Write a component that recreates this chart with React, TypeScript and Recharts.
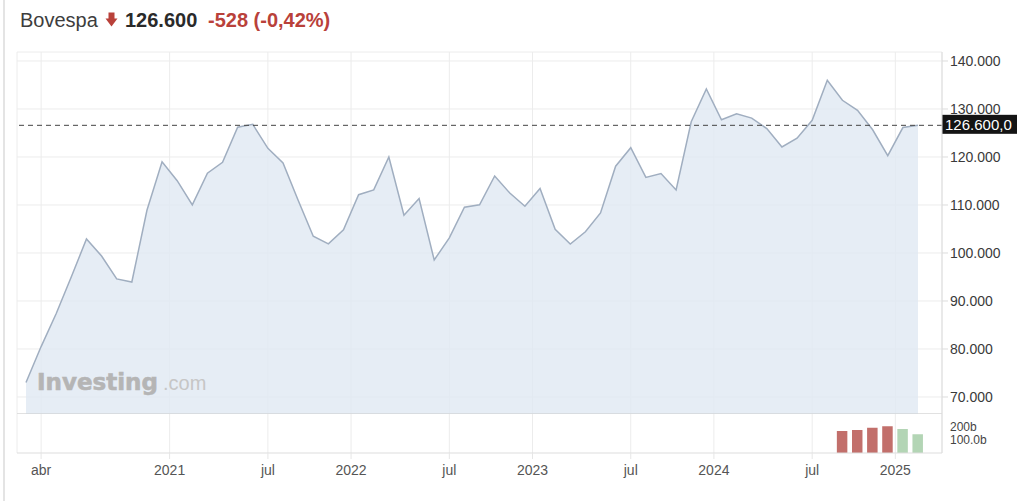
import React from "react";
import {
  ComposedChart,
  Area,
  Bar,
  Cell,
  XAxis,
  YAxis,
  CartesianGrid,
  ReferenceLine,
  Label,
} from "recharts";

// ---- data -------------------------------------------------------------
const monthNames = ["jan", "fev", "mar", "abr", "mai", "jun", "jul", "ago", "set", "out", "nov", "dez"];
const months: string[] = [];
for (let k = 0; k < 60; k++) {
  const m = (2 + k) % 12;
  const y = 2020 + Math.floor((2 + k) / 12);
  months.push(`${monthNames[m]} ${y}`);
}

const closes = [
  73019, 80506, 87402, 95055, 102912, 99369, 94603, 93952, 108893, 119017,
  115067, 110035, 116633, 118893, 126216, 126802, 121801, 118781, 110979, 103501,
  101915, 104822, 112144, 113142, 119999, 107876, 111351, 98542, 103165, 109523,
  110037, 116037, 112486, 109735, 113431, 104932, 101882, 104432, 108335, 118087,
  121943, 115742, 116565, 113144, 127331, 134185, 127752, 129020, 128106, 125924,
  122098, 123907, 127652, 136004, 131816, 129713, 125668, 120283, 126135, 126600,
];

const volumeMonths = ["set 2024", "out 2024", "nov 2024", "dez 2024", "jan 2025", "fev 2025"];
const volumes = [176, 184, 202, 214, 192, 150];
const volumeUp = [false, false, false, false, true, true];

const xTickPositions = [1, 9.5, 16, 21.5, 28, 33.5, 40, 45.5, 52, 57.5];
const xTickLabels = ["abr", "2021", "jul", "2022", "jul", "2023", "jul", "2024", "jul", "2025"];

const priceTicks = [70000, 80000, 90000, 100000, 110000, 120000, 130000, 140000];
const volumeTicks = [100, 200];
const volumeTickLabels = ["100.0b", "200b"];

const lastPrice = 126600;
const lastPriceTag = "126.600,0";

// ---- derived tables ----------------------------------------------------
const priceData = closes.map((v, i) => ({ i, month: months[i], close: v }));
const volumeData = volumes.map((v, k) => ({
  i: months.indexOf(volumeMonths[k]),
  vol: v,
  up: volumeUp[k],
}));

const X_DOMAIN: [number, number] = [-0.595, 60.587];
const PRICE_DOMAIN: [number, number] = [66458, 141875];
const VOL_DOMAIN: [number, number] = [0, 312];

const FONT = '"Liberation Sans", Arial, Helvetica, sans-serif';
const RED = "#b9413a";

const fmtPrice = (v: number) => `${v / 1000}.000`;
const fmtX = (v: number) => {
  const idx = xTickPositions.indexOf(v);
  return idx >= 0 ? xTickLabels[idx] : "";
};
const fmtVol = (v: number) => {
  const idx = volumeTicks.indexOf(v);
  return idx >= 0 ? volumeTickLabels[idx] : "";
};

const PriceTag = (props: any) => {
  const vb = props.viewBox || {};
  const x = (vb.x || 0) + (vb.width || 0);
  const y = vb.y || 0;
  return (
    <g>
      <rect x={x} y={y - 10.5} width={80} height={19} fill="#141414" />
      <text x={x + 3} y={y + 5} fill="#ffffff" fontSize={15} fontFamily={FONT}>
        {lastPriceTag}
      </text>
    </g>
  );
};

export default function App() {
  return (
    <div
      style={{
        position: "absolute",
        left: 0,
        top: 0,
        width: 1024,
        height: 501,
        background: "#ffffff",
        fontFamily: FONT,
        overflow: "hidden",
      }}
    >
      {/* left frame line */}
      <div style={{ position: "absolute", left: 3, top: 0, width: 2, height: 501, background: "#e4e4e4" }} />

      {/* title */}
      <svg width={400} height={40} style={{ position: "absolute", left: 0, top: 0 }}>
        <text x={20} y={27} fontSize={20} fill="#3d3d3d" fontFamily={FONT}>
          Bovespa
        </text>
        <path d="M108.5 12.5 H114.5 V18.5 H117.5 L111.5 26.5 L105.5 18.5 H108.5 Z" fill={RED} />
        <text x={125} y={27} fontSize={20} fontWeight="bold" fill="#2a2a2a" fontFamily={FONT}>
          126.600
        </text>
        <text x={208} y={27} fontSize={20} fontWeight="bold" fill={RED} fontFamily={FONT}>
          -528 (-0,42%)
        </text>
      </svg>

      {/* price panel */}
      <div style={{ position: "absolute", left: 0, top: 0 }}>
        <ComposedChart
          width={1017}
          height={414}
          data={priceData}
          margin={{ top: 52, right: 0, bottom: 0, left: 17 }}
        >
          <CartesianGrid stroke="#ececec" strokeWidth={1} />
          <XAxis
            dataKey="i"
            type="number"
            domain={X_DOMAIN}
            allowDataOverflow
            ticks={xTickPositions}
            hide
          />
          <YAxis
            orientation="right"
            width={75}
            type="number"
            domain={PRICE_DOMAIN}
            allowDataOverflow
            ticks={priceTicks}
            tickFormatter={fmtPrice}
            axisLine={{ stroke: "#dddddd" }}
            tickLine={{ stroke: "#dddddd" }}
            tickSize={6}
            tickMargin={2}
            tick={{ fontSize: 14, fill: "#3a3a3a", fontFamily: FONT }}
          />
          <Area
            type="linear"
            dataKey="close"
            stroke="#a0aec0"
            strokeWidth={1.5}
            fill="#e0e8f3"
            fillOpacity={0.8}
            dot={false}
            activeDot={false}
            isAnimationActive={false}
          />
          <ReferenceLine y={PRICE_DOMAIN[0]} stroke="#cccccc" strokeWidth={1} />
          <ReferenceLine y={lastPrice} stroke="#444444" strokeDasharray="5 4" strokeWidth={1}>
            <Label content={PriceTag} />
          </ReferenceLine>
        </ComposedChart>
      </div>

      {/* watermark */}
      <svg width={260} height={40} style={{ position: "absolute", left: 0, top: 365, pointerEvents: "none" }}>
        <text
          x={37}
          y={25}
          fontSize={23}
          fontWeight={900}
          fill="#b5b5b5"
          fontFamily='"DejaVu Sans", Arial, sans-serif'
          stroke="#b5b5b5"
          strokeWidth={0.6}
        >
          Investing
        </text>
        <text x={163} y={25} fontSize={20} fill="#c6c6c6" fontFamily={FONT}>
          .com
        </text>
      </svg>

      {/* volume panel + time axis */}
      <div style={{ position: "absolute", left: 0, top: 414 }}>
        <ComposedChart
          width={1017}
          height={69}
          data={volumeData}
          margin={{ top: 0, right: 0, bottom: 0, left: 17 }}
        >
          <CartesianGrid stroke="#ececec" horizontal={false} />
          <XAxis
            dataKey="i"
            type="number"
            domain={X_DOMAIN}
            allowDataOverflow
            ticks={xTickPositions}
            tickFormatter={fmtX}
            interval={0}
            height={30}
            axisLine={{ stroke: "#dddddd" }}
            tickLine={{ stroke: "#e6e6e6" }}
            tickSize={6}
            tickMargin={6}
            tick={{ fontSize: 14, fill: "#555555", fontFamily: FONT }}
          />
          <YAxis
            orientation="right"
            width={75}
            type="number"
            domain={VOL_DOMAIN}
            allowDataOverflow
            ticks={volumeTicks}
            tickFormatter={fmtVol}
            interval={0}
            axisLine={{ stroke: "#dddddd" }}
            tickLine={false}
            tickSize={8}
            tickMargin={0}
            tick={{ fontSize: 12, fill: "#444444", fontFamily: FONT, dy: -1 }}
          />
          <Bar dataKey="vol" barSize={10.5} isAnimationActive={false}>
            {volumeData.map((d, k) => (
              <Cell key={k} fill={d.up ? "#b3d5b5" : "#c26f6b"} />
            ))}
          </Bar>
        </ComposedChart>
      </div>
    </div>
  );
}
